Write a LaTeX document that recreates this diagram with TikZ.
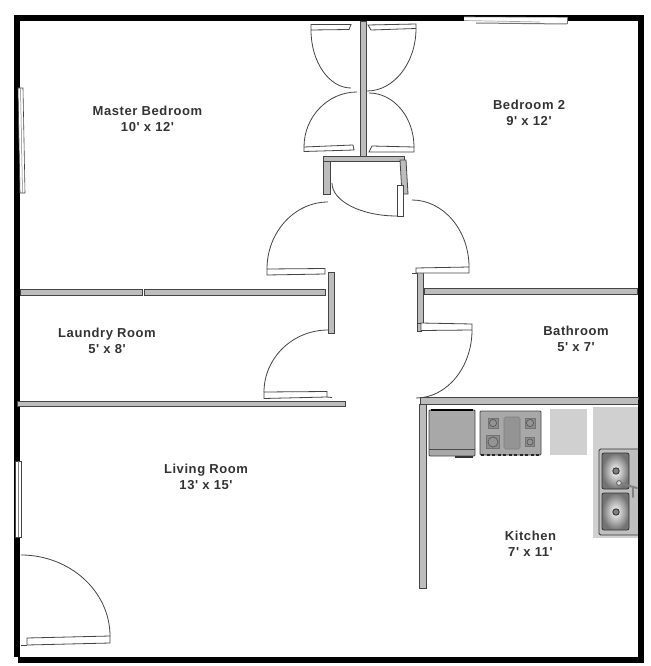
\documentclass[tikz,border=0pt]{standalone}
\usepackage{fontspec}
\setmainfont{Liberation Sans}
\newfontfamily\labelfont[LetterSpace=4.5]{Liberation Sans Bold}
\usetikzlibrary{calc}
\definecolor{wallfill}{HTML}{BDBDBD}
\definecolor{walledge}{HTML}{444444}
\definecolor{counterfill}{HTML}{D0D0D0}
\definecolor{stovefill}{HTML}{A8A8A8}
\tikzset{
  outerwall/.style={fill=black,draw=none},
  innerwall/.style={fill=wallfill,draw=walledge,line width=0.8pt},
  doorpanel/.style={fill=white,draw=walledge,line width=0.8pt},
  swing/.style={draw=walledge,line width=0.8pt},
  windowpane/.style={fill=white,draw=walledge,line width=0.6pt},
  roomlabel/.style={font=\labelfont\fontsize{13}{15.8}\selectfont,text=black!80,inner sep=0pt,align=center},
  counter/.style={fill=counterfill,draw=none},
  appliance/.style={fill=stovefill,draw=walledge,line width=0.8pt,rounded corners=1pt},
  grate/.style={fill=black!45,draw=black!55,line width=0.5pt},
  burner/.style={fill=black!42,draw=black!65,line width=0.7pt},
  griddle/.style={fill=black!42,draw=black!50,line width=0.6pt,rounded corners=1.5pt},
  basin/.style={inner color=white,outer color=black!55,draw=black!80,line width=0.8pt,rounded corners=2pt},
  drain/.style={fill=black!50,draw=black!80,line width=0.9pt},
  tap/.style={draw=black!50,line width=2pt,line cap=round}
}
\newcommand{\doorarc}[4]{\draw[swing] (#1,#2) .. controls ($(#1,#2)!0.55!(#1,#4)$) and ($(#3,#4)!0.55!(#1,#4)$) .. (#3,#4);}
\begin{document}
\begin{tikzpicture}[x=1pt,y=-1pt]
\useasboundingbox (0,0) rectangle (650,666);
\fill[white] (0,0) rectangle (650,666);
% outer walls
\fill[outerwall] (14,15) rectangle (644,21.5);
\fill[outerwall] (13.5,15) rectangle (20,657);
\fill[outerwall] (17.5,657) rectangle (644,662.5);
\fill[outerwall] (638,15) rectangle (644,662.5);
% windows
\fill[white] (464,17) rectangle (567,24);
\draw[black!35,line width=0.6pt] (464,17) -- (567,17.5);
\draw[black!35,line width=0.7pt] (464,20.5) -- (540,22);
\draw[black!55,line width=1pt] (476,23) -- (567,24);
\draw[black!55,line width=0.6pt] (567,17.5) -- (567,24);
\path[windowpane] (18,88) -- (23,88) -- (25,193) -- (20,193) -- cycle;
\draw[black!50,line width=0.5pt] (20.5,88) -- (22.5,193);
\path[windowpane] (15,461) rectangle (21,537);
\draw[black!50,line width=0.5pt] (18,461) -- (18,537);
% interior walls
\path[innerwall] (360,21) rectangle (366,156);
\path[innerwall] (323,156) rectangle (404,161.5);
\path[innerwall] (323,161) rectangle (330,194);
\path[innerwall] (400,160) -- (406,160) -- (408,194) -- (402,194) -- cycle;
\path[innerwall] (20,289) rectangle (142.5,295);
\path[innerwall] (144.5,289) rectangle (325,295);
\path[innerwall] (17.5,401) rectangle (345,406.5);
\path[innerwall] (328,272) rectangle (334,333);
\path[innerwall] (417,272) rectangle (423,323);
\path[innerwall] (417,323) rectangle (421,331);
\path[innerwall] (424,288) rectangle (637.5,294);
\path[innerwall] (420,397.5) rectangle (638,404);
\path[innerwall] (419.5,404) rectangle (426,588);
% closet door
\path[doorpanel] (397,185) rectangle (403,216);
\doorarc{332}{183}{397}{216}
% upper bedroom doors
\path[doorpanel] (311,24.5) -- (351,24.5) -- (349,29.5) -- (311,30) -- cycle;
\doorarc{311}{30}{351}{88}
\path[doorpanel] (368,25) -- (416,24) -- (416,28.5) -- (371,30) -- cycle;
\doorarc{416}{28.5}{367}{91}
\path[doorpanel] (304,147) -- (353,145) -- (354,150) -- (304,151.5) -- cycle;
\doorarc{304}{147}{357}{92}
\path[doorpanel] (372,146) -- (414,147) -- (414,152) -- (369,152) -- cycle;
\doorarc{414}{147}{369}{93}
% hall doors
\path[doorpanel] (267,269) -- (325,268.5) -- (325,274) -- (267,275) -- cycle;
\doorarc{267}{269}{328}{202}
\path[doorpanel] (416,268) -- (469,267) -- (469,273) -- (416,273) -- cycle;
\doorarc{469}{267}{412}{200}
\path[doorpanel] (264,392) -- (327,391.5) -- (327,397) -- (264,398.5) -- cycle;
\doorarc{264}{392}{328}{330}
\draw[swing] (327,397) -- (332,397.5);
\path[doorpanel] (421,323) -- (472,324) -- (472,330) -- (421,330.5) -- cycle;
\doorarc{472}{330}{416}{398}
\draw[swing] (412,273) -- (417,273);
% entry door
\path[doorpanel] (27,638) -- (110,636) -- (110,643) -- (27,645) -- cycle;
\draw[swing] (21,645) -- (27,645);
\doorarc{110}{636}{21}{555}
% kitchen counters
\fill[counter] (550,409) rectangle (587,455);
\fill[counter] (593,407) rectangle (638,538);
% dishwasher
\path[appliance] (429,410) rectangle (475,456);
\draw[black,line width=1.2pt] (431,410) -- (473,410);
\draw[black!70,line width=0.7pt] (429,449) -- (475,449);
\fill[black!80] (455,456) rectangle (473,458);
% stove
\path[appliance] (480,411) rectangle (541,455);
\path[griddle] (504,417) rectangle (520,449);
\foreach \bx/\by/\gs/\br in {493/423/5/3.6,530/423/5/3.6,493/442/6.5/5,530/442/4.5/3}{
  \path[grate] (\bx-\gs,\by-\gs) rectangle (\bx+\gs,\by+\gs);
  \path[burner] (\bx,\by) circle (\br);
}
\draw[black!85,line width=1.5pt,dash pattern=on 3pt off 2.5pt] (481,455) -- (541,455);
% sink
\path[fill=black!25,draw=black!80,line width=0.8pt,rounded corners=1.5pt] (638,449) -- (599,449) -- (599,535) -- (638,535);
\path[basin] (602,453) rectangle (629,489);
\path[basin] (602,493) rectangle (629,530);
\path[drain] (616,471) circle (3.2);
\path[drain] (616,512) circle (3.2);
\draw[tap] (619,483) -- (637,488);
\draw[tap] (633,487) -- (633,497);
\path[fill=black!15,draw=black!65,line width=0.7pt] (619,483) circle (2.4);
% outer wall over the sink edge
\fill[outerwall] (638,400) rectangle (644,560);
% labels
\node[roomlabel] (master) at (147.5,119) {Master Bedroom\\10' x 12'};
\node[roomlabel] (bed2) at (529,113) {Bedroom 2\\9' x 12'};
\node[roomlabel] (laundry) at (107,341) {Laundry Room\\5' x 8'};
\node[roomlabel] (bath) at (576,339) {Bathroom\\5' x 7'};
\node[roomlabel] (living) at (206,477) {Living Room\\13' x 15'};
\node[roomlabel] (kitchen) at (530.5,543.5) {Kitchen\\7' x 11'};
\end{tikzpicture}
\end{document}
